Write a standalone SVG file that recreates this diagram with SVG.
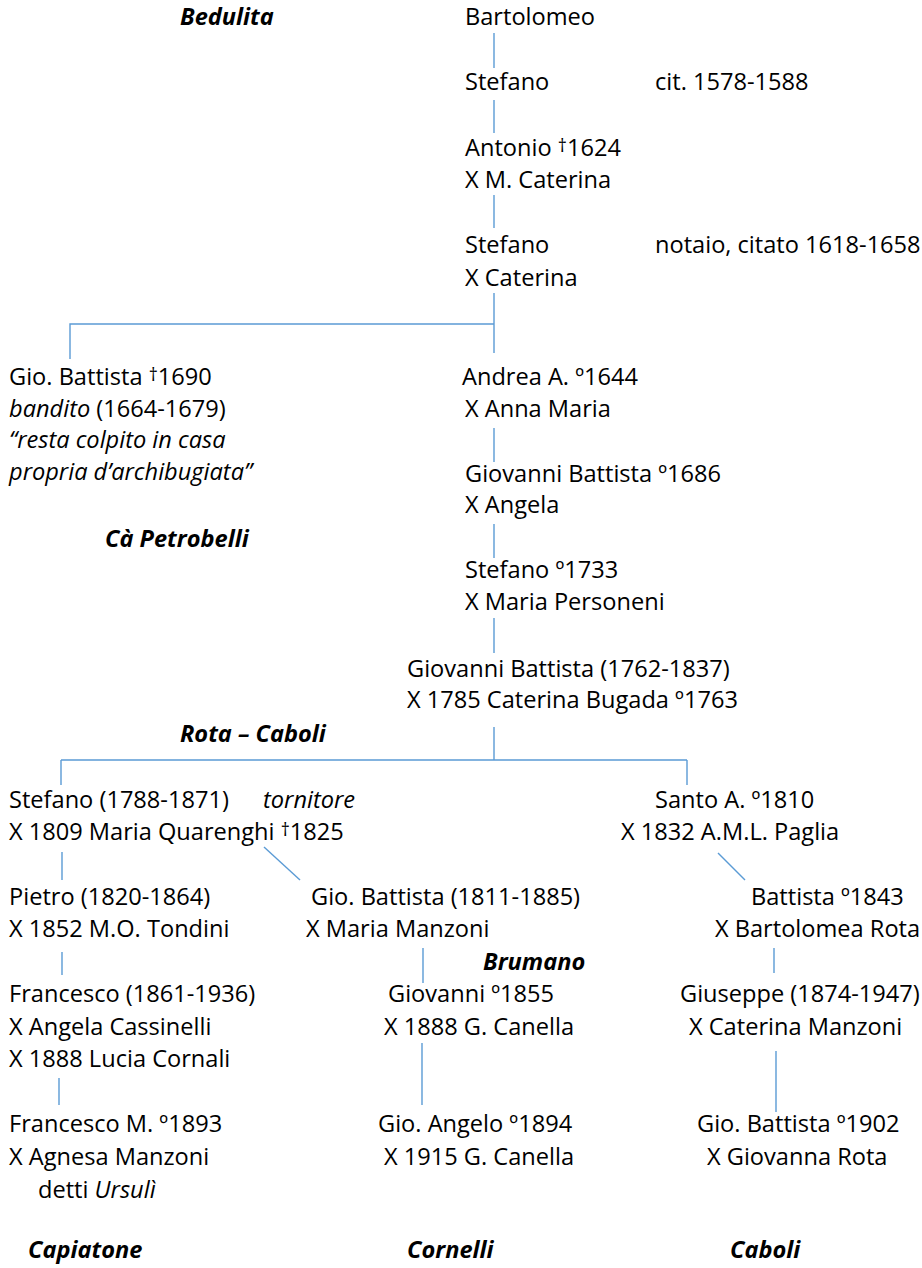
<svg xmlns="http://www.w3.org/2000/svg" width="922" height="1268" viewBox="0 0 922 1268">
<style>
text{font-family:"Open Sans","Noto Sans","Liberation Sans",sans-serif;font-size:23.6px;fill:#000}
.i{font-style:italic}
.bi{font-style:italic;font-weight:bold}
.sup{font-size:18px}
.c path{fill:none;stroke:#5b9bd5;stroke-width:1.4}
</style>
<rect width="922" height="1268" fill="#fff"/>
<g id="connectors" class="c">
<path d="M494 33V68"/>
<path d="M494 100V133"/>
<path d="M494 195V228"/>
<path d="M494 293V353M494 324H70V359"/>
<path d="M494 428V462"/>
<path d="M494 524V558"/>
<path d="M494 618V653"/>
<path d="M494 727V760M61 760H687M61 760V785M687 760V785"/>
<path d="M62 852V880"/>
<path d="M264 847L300 880"/>
<path d="M718 853L745 880"/>
<path d="M62 952V975"/>
<path d="M423 948V983"/>
<path d="M774 948V973"/>
<path d="M59 1078V1105"/>
<path d="M422 1043V1105"/>
<path d="M776 1051V1112"/>
</g>
<g id="labels">
<text class="bi" x="180" y="25">Bedulita</text>
<text class="bi" x="105" y="547">Cà Petrobelli</text>
<text class="bi" x="180" y="742">Rota – Caboli</text>
<text class="bi" x="483" y="970">Brumano</text>
<text class="bi" x="28" y="1258">Capiatone</text>
<text class="bi" x="407" y="1258">Cornelli</text>
<text class="bi" x="730" y="1258">Caboli</text>
</g>
<g id="n-bartolomeo"><text x="465" y="25">Bartolomeo</text></g>
<g id="n-stefano-1"><text x="465" y="90">Stefano</text><text x="655" y="90">cit. 1578-1588</text></g>
<g id="n-antonio"><text x="465" y="156">Antonio <tspan class="sup" dy="-4">†</tspan><tspan dy="4">1624</tspan></text><text x="465" y="188">X M. Caterina</text></g>
<g id="n-stefano-2"><text x="465" y="253">Stefano</text><text x="655" y="253">notaio, citato 1618-1658</text><text x="465" y="286">X Caterina</text></g>
<g id="n-giobattista-1690">
<text x="9" y="385">Gio. Battista <tspan class="sup" dy="-4">†</tspan><tspan dy="4">1690</tspan></text>
<text x="9" y="417"><tspan class="i">bandito</tspan> (1664-1679)</text>
<text class="i" x="9" y="448">“resta colpito in casa</text>
<text class="i" x="9" y="480">propria d’archibugiata”</text>
</g>
<g id="n-andrea"><text x="462" y="385">Andrea A. º1644</text><text x="465" y="417">X Anna Maria</text></g>
<g id="n-giovanni-battista-1686"><text x="465" y="482">Giovanni Battista º1686</text><text x="465" y="513">X Angela</text></g>
<g id="n-stefano-1733"><text x="465" y="578">Stefano º1733</text><text x="465" y="610">X Maria Personeni</text></g>
<g id="n-giovanni-battista-1762"><text x="407" y="677">Giovanni Battista (1762-1837)</text><text x="407" y="708">X 1785 Caterina Bugada º1763</text></g>
<g id="n-stefano-1788"><text x="9" y="808">Stefano (1788-1871)</text><text class="i" x="263" y="808">tornitore</text><text x="9" y="840">X 1809 Maria Quarenghi <tspan class="sup" dy="-4">†</tspan><tspan dy="4">1825</tspan></text></g>
<g id="n-santo"><text x="655" y="808">Santo A. º1810</text><text x="621" y="840">X 1832 A.M.L. Paglia</text></g>
<g id="n-pietro"><text x="9" y="905">Pietro (1820-1864)</text><text x="9" y="937">X 1852 M.O. Tondini</text></g>
<g id="n-giobattista-1811"><text x="311" y="905">Gio. Battista (1811-1885)</text><text x="306" y="937">X Maria Manzoni</text></g>
<g id="n-battista-1843"><text x="751" y="905">Battista º1843</text><text x="715" y="937">X Bartolomea Rota</text></g>
<g id="n-francesco-1861"><text x="9" y="1002">Francesco (1861-1936)</text><text x="9" y="1035">X Angela Cassinelli</text><text x="9" y="1067">X 1888 Lucia Cornali</text></g>
<g id="n-giovanni-1855"><text x="388" y="1002">Giovanni º1855</text><text x="384" y="1035">X 1888 G. Canella</text></g>
<g id="n-giuseppe"><text x="680" y="1002">Giuseppe (1874-1947)</text><text x="689" y="1035">X Caterina Manzoni</text></g>
<g id="n-francesco-m"><text x="9" y="1132">Francesco M. º1893</text><text x="9" y="1165">X Agnesa Manzoni</text><text x="38" y="1198">detti <tspan class="i">Ursulì</tspan></text></g>
<g id="n-gio-angelo"><text x="378" y="1132">Gio. Angelo º1894</text><text x="384" y="1165">X 1915 G. Canella</text></g>
<g id="n-gio-battista-1902"><text x="697" y="1132">Gio. Battista º1902</text><text x="707" y="1165">X Giovanna Rota</text></g>
</svg>
